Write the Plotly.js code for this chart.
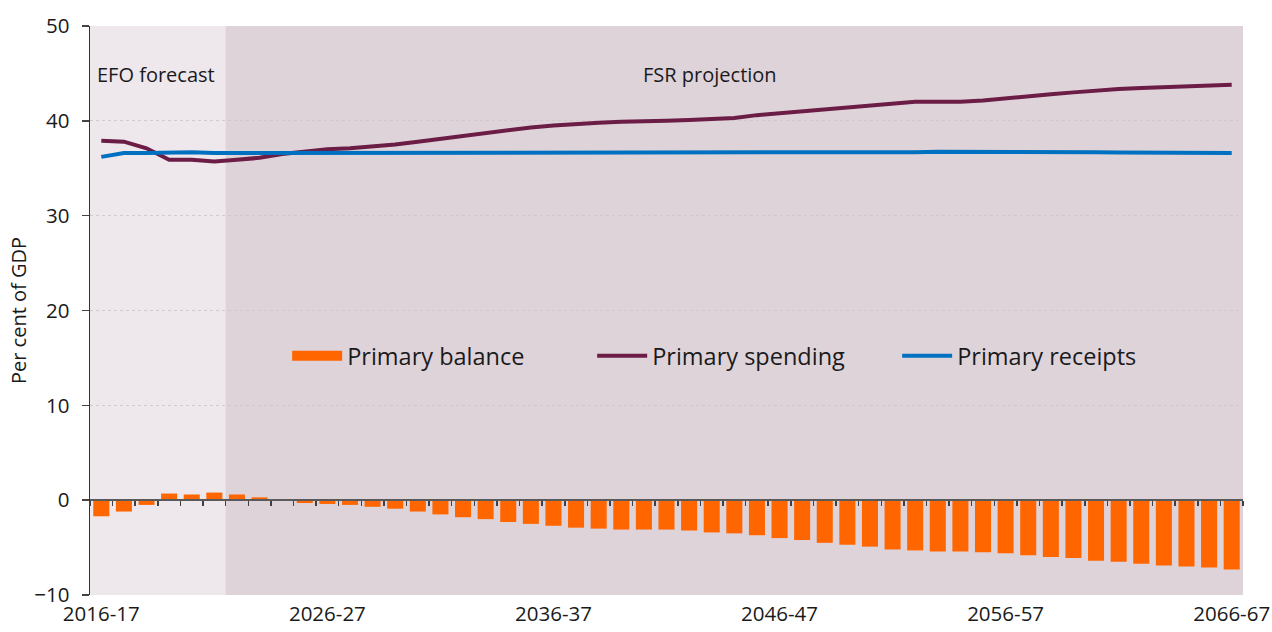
<!DOCTYPE html>
<html>
<head>
<meta charset="utf-8">
<script src="https://cdn.plot.ly/plotly-3.0.1.min.js"></script>
<style>
  html, body { margin: 0; padding: 0; background: #ffffff; }
  #chart { width: 1272px; height: 632px; }
</style>
</head>
<body>
<div id="chart"></div>
<script>
// ---- Data ----
const years = [];
for (let y = 2016; y <= 2066; y++) {
  years.push(y + "-" + String((y + 1) % 100).padStart(2, "0"));
}

const primaryBalance = [
  -1.7, -1.2, -0.5, 0.7, 0.6, 0.8, 0.6, 0.3, 0.1, -0.3,
  -0.4, -0.5, -0.7, -0.9, -1.2, -1.5, -1.8, -2.0, -2.3, -2.5,
  -2.7, -2.9, -3.0, -3.1, -3.1, -3.1, -3.2, -3.4, -3.5, -3.7,
  -4.0, -4.2, -4.5, -4.7, -4.9, -5.2, -5.3, -5.4, -5.4, -5.5,
  -5.6, -5.8, -6.0, -6.1, -6.4, -6.5, -6.7, -6.9, -7.0, -7.1,
  -7.3
];

const primarySpending = [
  37.9, 37.8, 37.1, 35.9, 35.9, 35.7, 35.9, 36.1, 36.5, 36.75,
  37.0, 37.1, 37.25, 37.5, 37.8, 38.1, 38.4, 38.75, 39.0, 39.3,
  39.5, 39.7, 39.8, 39.9, 39.9, 40.0, 40.1, 40.2, 40.3, 40.6,
  40.8, 41.0, 41.3, 41.5, 41.7, 41.9, 42.0, 42.0, 42.0, 42.15,
  42.4, 42.6, 42.8, 43.0, 43.2, 43.35, 43.45, 43.55, 43.7, 43.75,
  43.8
];

const primaryReceipts = [
  36.2, 36.6, 36.6, 36.7, 36.7, 36.6, 36.6, 36.6, 36.6, 36.6,
  36.6, 36.6, 36.6, 36.6, 36.6, 36.6, 36.6, 36.6, 36.6, 36.6,
  36.6, 36.65, 36.65, 36.7, 36.7, 36.7, 36.7, 36.7, 36.7, 36.7,
  36.7, 36.65, 36.65, 36.6, 36.65, 36.65, 36.7, 36.75, 36.75, 36.75,
  36.8, 36.8, 36.75, 36.7, 36.7, 36.65, 36.65, 36.6, 36.6, 36.6,
  36.6
];

const xTickLabels = ["2016-17", "2026-27", "2036-37", "2046-47", "2056-57", "2066-67"];
const yTickValues = [-10, 0, 10, 20, 30, 40, 50];
const lastForecastYear = "2021-22";
const periodLabels = ["EFO forecast", "FSR projection"];
const seriesNames = ["Primary balance", "Primary spending", "Primary receipts"];

// ---- Styling ----
const FONT = "'Open Sans', 'Noto Sans', sans-serif";
const TEXT = "#1a1a1a";
const ORANGE = "#FF6600";
const forecastEnd = years.indexOf(lastForecastYear) + 0.5;
const axisRange = [-0.5, years.length - 0.5];

const traces = [
  {
    type: "bar", name: seriesNames[0], x: years, y: primaryBalance,
    marker: { color: ORANGE }, xaxis: "x", yaxis: "y", showlegend: false
  },
  {
    // legend swatch for the bars (wide flat rectangle like the reference)
    type: "scatter", mode: "lines", name: seriesNames[0], x: years, y: years.map(() => null),
    line: { color: ORANGE, width: 14 }, xaxis: "x", yaxis: "y", hoverinfo: "skip"
  },
  {
    type: "scatter", mode: "lines", name: seriesNames[1], x: years, y: primarySpending,
    line: { color: "#6B1D45", width: 4 }, xaxis: "x", yaxis: "y"
  },
  {
    type: "scatter", mode: "lines", name: seriesNames[2], x: years, y: primaryReceipts,
    line: { color: "#0070C0", width: 4 }, xaxis: "x", yaxis: "y"
  },
  {
    type: "scatter", mode: "lines", x: years, y: years.map(() => null),
    xaxis: "x2", yaxis: "y", showlegend: false, hoverinfo: "skip"
  }
];

const layout = {
  width: 1272, height: 632,
  margin: { l: 90, r: 29, t: 26, b: 37 },
  paper_bgcolor: "#ffffff",
  plot_bgcolor: "#DFD3DA",
  font: { family: FONT, color: TEXT, size: 18 },
  bargap: 0.29,
  showlegend: true,
  legend: {
    orientation: "h", x: 0.171, y: 0.42, xanchor: "left", yanchor: "middle",
    font: { family: FONT, size: 23.5, color: TEXT },
    bgcolor: "rgba(0,0,0,0)", entrywidth: 240, itemwidth: 50,
    traceorder: "normal"
  },
  xaxis: {
    type: "category", categoryarray: years, range: axisRange,
    tickmode: "array", tickvals: xTickLabels, ticktext: xTickLabels,
    ticks: "", showline: false, showgrid: false, zeroline: false,
    ticklabelstandoff: 4,
    tickfont: { family: FONT, size: 20.5, color: TEXT },
    fixedrange: true
  },
  xaxis2: {
    type: "category", categoryarray: years, range: axisRange,
    overlaying: "x", anchor: "free", position: 1 / 6,
    showticklabels: false, ticks: "outside", tickson: "boundaries",
    ticklen: 5, tickwidth: 1.5, tickcolor: "#404040",
    showline: true, linecolor: "#5a5a5a", linewidth: 2,
    showgrid: false, zeroline: false
  },
  yaxis: {
    range: [-10, 50], tickvals: yTickValues,
    showline: true, linecolor: "#333333", linewidth: 1.5,
    ticks: "outside", ticklen: 7, tickcolor: "#444444", tickwidth: 1.5,
    showgrid: true, gridcolor: "#d2c8ce", griddash: "dot", gridwidth: 1,
    zeroline: false, ticklabelstandoff: 8,
    tickfont: { family: FONT, size: 20.5, color: TEXT },
    title: { text: "Per cent of GDP", font: { family: FONT, size: 20, color: TEXT }, standoff: 2 }
  },
  shapes: [
    {
      type: "rect", layer: "below", xref: "x", yref: "paper",
      x0: axisRange[0], x1: forecastEnd, y0: 0, y1: 1,
      fillcolor: "#EEE7EC", line: { width: 0 }
    }
  ],
  annotations: [
    {
      text: periodLabels[0], xref: "paper", yref: "paper", x: 0.004, y: 0.915,
      xanchor: "left", yanchor: "middle", showarrow: false,
      font: { family: FONT, size: 20, color: TEXT }
    },
    {
      text: periodLabels[1], xref: "paper", yref: "paper", x: 0.538, y: 0.915,
      xanchor: "center", yanchor: "middle", showarrow: false,
      font: { family: FONT, size: 20, color: TEXT }
    }
  ]
};

Plotly.newPlot("chart", traces, layout, { displayModeBar: false, staticPlot: true });
</script>
</body>
</html>
